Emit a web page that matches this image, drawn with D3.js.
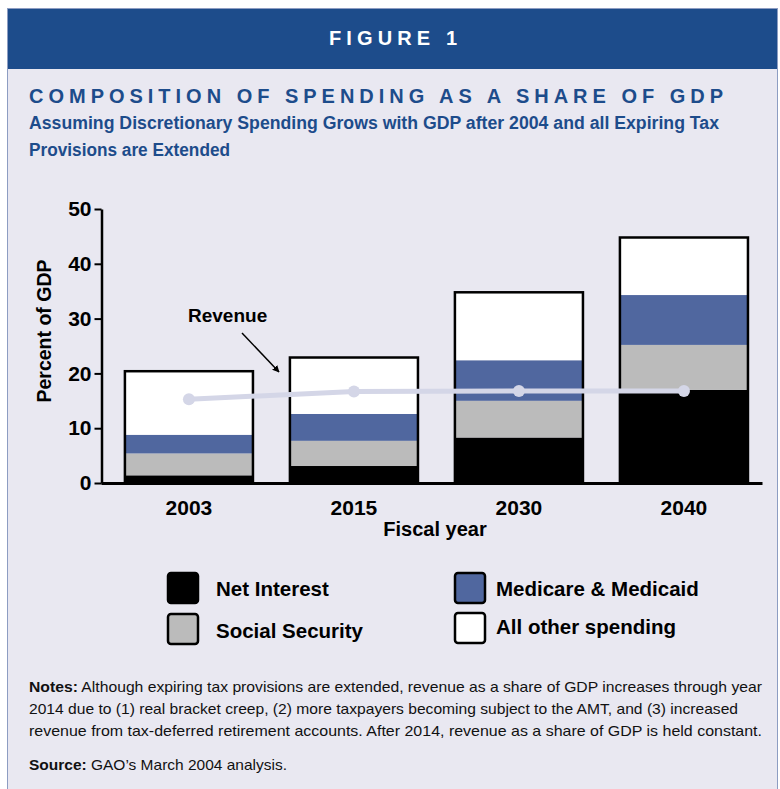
<!DOCTYPE html>
<html>
<head>
<meta charset="utf-8">
<script src="https://cdn.jsdelivr.net/npm/d3@7"></script>
<style>
  body { margin: 0; background: #fff; }
  svg text { font-family: "Liberation Sans", Arial, sans-serif; }
</style>
</head>
<body>
<div id="chart"></div>
<script>
// chart data (percent of GDP)
const years = ["2003", "2015", "2030", "2040"];
const netInterest = [1.4, 3.1, 8.3, 17.0];
const socialSecurity = [4.0, 4.6, 6.7, 8.2];
const medicare = [3.4, 4.9, 7.4, 9.1];
const allOther = [11.6, 10.3, 12.4, 10.5];
const revenue = [15.3, 16.7, 16.8, 16.8];
const yTicks = [0, 10, 20, 30, 40, 50];

const seriesNames = ["Net Interest", "Social Security", "Medicare & Medicaid", "All other spending"];
const seriesColors = ["#000000", "#bbbbbb", "#50679f", "#ffffff"];

const notesLines = [
  ["Notes:", " Although expiring tax provisions are extended, revenue as a share of GDP increases through year"],
  ["", "2014 due to (1) real bracket creep, (2) more taxpayers becoming subject to the AMT, and (3) increased"],
  ["", "revenue from tax-deferred retirement accounts. After 2014, revenue as a share of GDP is held constant."],
];
const sourceLine = ["Source:", " GAO\u2019s March 2004 analysis."];

const width = 780;
const height = 789;
const navy = "#1d4c8b";

const svg = d3
  .select("#chart")
  .append("svg")
  .attr("width", width)
  .attr("height", height);

// panel + header band
svg.append("rect")
  .attr("x", 7.5).attr("y", 8.5)
  .attr("width", 770).attr("height", 800)
  .attr("fill", "#e9e8f1")
  .attr("stroke", "#8d9dc2")
  .attr("stroke-width", 1);

svg.append("rect")
  .attr("x", 8).attr("y", 9)
  .attr("width", 769).attr("height", 60)
  .attr("fill", navy);

svg.append("text")
  .attr("x", 329).attr("y", 45)
  .attr("textLength", 128)
  .attr("lengthAdjust", "spacing")
  .attr("fill", "#fff")
  .style("font-size", "20px")
  .style("font-weight", "bold")
  .text("FIGURE 1");

svg.append("text")
  .attr("x", 29).attr("y", 103)
  .attr("textLength", 694)
  .attr("lengthAdjust", "spacing")
  .attr("fill", navy)
  .style("font-size", "20px")
  .style("font-weight", "bold")
  .text("COMPOSITION OF SPENDING AS A SHARE OF GDP");

svg.append("text")
  .attr("x", 29).attr("y", 129)
  .attr("textLength", 690)
  .attr("lengthAdjust", "spacingAndGlyphs")
  .attr("fill", navy)
  .style("font-size", "18px")
  .style("font-weight", "bold")
  .text("Assuming Discretionary Spending Grows with GDP after 2004 and all Expiring Tax");

svg.append("text")
  .attr("x", 29).attr("y", 156)
  .attr("textLength", 201)
  .attr("lengthAdjust", "spacingAndGlyphs")
  .attr("fill", navy)
  .style("font-size", "18px")
  .style("font-weight", "bold")
  .text("Provisions are Extended");

// scales
const x = d3
  .scaleBand()
  .domain(years)
  .range([101, 762])
  .paddingInner(0.224)
  .paddingOuter(0.115)
  .align(0.63);

const y = d3.scaleLinear().domain([0, 50]).range([483, 209]);

// stacked data
const table = years.map((yr, i) => ({
  year: yr,
  s0: netInterest[i],
  s1: socialSecurity[i],
  s2: medicare[i],
  s3: allOther[i],
}));
const stack = d3.stack().keys(["s0", "s1", "s2", "s3"])(table);

const g = svg.append("g");

stack.forEach((layer, k) => {
  g.selectAll(".seg" + k)
    .data(layer)
    .enter()
    .append("rect")
    .attr("x", (d) => x(d.data.year))
    .attr("width", x.bandwidth())
    .attr("y", (d) => y(d[1]))
    .attr("height", (d) => y(d[0]) - y(d[1]))
    .attr("fill", seriesColors[k]);
});

// outline around each full bar
g.selectAll(".outline")
  .data(stack[3])
  .enter()
  .append("rect")
  .attr("x", (d) => x(d.data.year))
  .attr("width", x.bandwidth())
  .attr("y", (d) => y(d[1]))
  .attr("height", (d) => y(0) - y(d[1]))
  .attr("fill", "none")
  .attr("stroke", "#000")
  .attr("stroke-width", 2.5);

// y axis
const yAxis = svg
  .append("g")
  .attr("transform", "translate(101.5,0)")
  .call(d3.axisLeft(y).tickValues(yTicks).tickSize(7).tickSizeOuter(0).tickPadding(3));
yAxis.select(".domain").attr("stroke-width", 2.5);
yAxis.selectAll(".tick line").attr("stroke-width", 2);
yAxis.selectAll("text")
  .attr("fill", "#000")
  .style("font-size", "21px")
  .style("font-weight", "bold")
  .style("font-family", "'Liberation Sans', Arial, sans-serif");

// x axis
const xAxis = svg
  .append("g")
  .attr("transform", "translate(0,483)")
  .call(d3.axisBottom(x).tickSize(0).tickSizeOuter(0).tickPadding(17));
xAxis.select(".domain").attr("stroke-width", 3);
xAxis.selectAll("text")
  .attr("fill", "#000")
  .style("font-size", "21px")
  .style("font-weight", "bold")
  .style("font-family", "'Liberation Sans', Arial, sans-serif");

svg.append("text")
  .attr("x", 435).attr("y", 536)
  .attr("text-anchor", "middle")
  .style("font-size", "20px")
  .style("font-weight", "bold")
  .text("Fiscal year");

svg.append("text")
  .attr("transform", "rotate(-90)")
  .attr("x", -331).attr("y", 51)
  .attr("text-anchor", "middle")
  .style("font-size", "19.5px")
  .style("font-weight", "bold")
  .text("Percent of GDP");

// revenue line
const revPts = years.map((yr, i) => [x(yr) + x.bandwidth() / 2, y(revenue[i])]);
svg.append("path")
  .attr("d", d3.line()(revPts))
  .attr("fill", "none")
  .attr("stroke", "#d4d6e7")
  .attr("stroke-width", 5);
svg.selectAll(".rev-dot")
  .data(revPts)
  .enter()
  .append("circle")
  .attr("cx", (d) => d[0])
  .attr("cy", (d) => d[1])
  .attr("r", 6)
  .attr("fill", "#d4d6e7");

// revenue annotation
svg.append("defs")
  .append("marker")
  .attr("id", "arrow")
  .attr("viewBox", "0 0 10 10")
  .attr("refX", 9).attr("refY", 5)
  .attr("markerWidth", 7).attr("markerHeight", 7)
  .attr("markerUnits", "userSpaceOnUse")
  .attr("orient", "auto")
  .append("path")
  .attr("d", "M0,0L10,5L0,10z")
  .attr("fill", "#000");

svg.append("line")
  .attr("x1", 242).attr("y1", 333)
  .attr("x2", 279).attr("y2", 372)
  .attr("stroke", "#000")
  .attr("stroke-width", 1.5)
  .attr("marker-end", "url(#arrow)");

svg.append("text")
  .attr("x", 188).attr("y", 322)
  .style("font-size", "19px")
  .style("font-weight", "bold")
  .text("Revenue");

// legend
const legendItems = [
  { name: seriesNames[0], color: seriesColors[0], x: 168, y: 573, tx: 216, ty: 596 },
  { name: seriesNames[1], color: seriesColors[1], x: 168, y: 614, tx: 216, ty: 638 },
  { name: seriesNames[2], color: seriesColors[2], x: 455, y: 573, tx: 496, ty: 596 },
  { name: seriesNames[3], color: seriesColors[3], x: 455, y: 613, tx: 496, ty: 634 },
];
const legend = svg.append("g");
legendItems.forEach((d) => {
  legend.append("rect")
    .attr("x", d.x).attr("y", d.y)
    .attr("width", 30).attr("height", 30)
    .attr("rx", 3)
    .attr("fill", d.color)
    .attr("stroke", "#000")
    .attr("stroke-width", 2.5);
  legend.append("text")
    .attr("x", d.tx).attr("y", d.ty)
    .style("font-size", "20.5px")
    .style("font-weight", "bold")
    .text(d.name);
});

// notes
const noteWidths = [733, 709, 733];
notesLines.forEach((ln, i) => {
  const t = svg.append("text")
    .attr("x", 29).attr("y", 692 + i * 22)
    .attr("textLength", noteWidths[i])
    .attr("lengthAdjust", "spacingAndGlyphs")
    .style("font-size", "15px")
    .attr("fill", "#111");
  if (ln[0]) t.append("tspan").style("font-weight", "bold").text(ln[0]);
  t.append("tspan").text(ln[1]);
});

const src = svg.append("text")
  .attr("x", 29).attr("y", 770)
  .attr("textLength", 258)
  .attr("lengthAdjust", "spacingAndGlyphs")
  .style("font-size", "15px")
  .attr("fill", "#111");
src.append("tspan").style("font-weight", "bold").text(sourceLine[0]);
src.append("tspan").text(sourceLine[1]);
</script>
</body>
</html>
